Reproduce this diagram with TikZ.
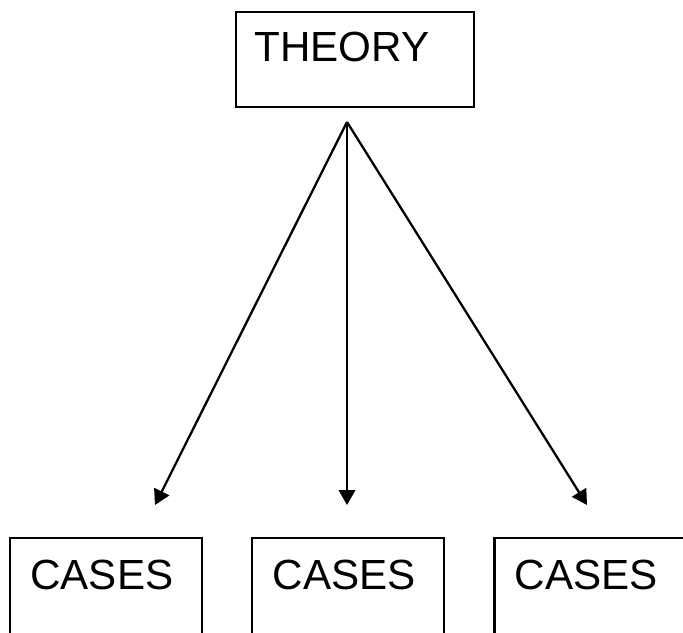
\documentclass[tikz,border=0pt]{standalone}
\usepackage{fontspec}
\setmainfont{Liberation Sans}
\usetikzlibrary{positioning,arrows.meta}

\begin{document}
\begin{tikzpicture}[
    node distance = 0.96cm,
    line width = 1.3pt,
    box/.style = {draw=black, rectangle, align=left,
        font=\fontsize{24}{28}\selectfont, text height=0.61cm},
    theorybox/.style = {box, inner xsep=0.37cm, inner ysep=0.37cm,
        text width=4.02cm, text depth=0.55cm},
    casebox/.style = {box, inner xsep=0.41cm, inner ysep=0.41cm,
        text width=3.02cm, text depth=0.53cm},
    arr/.style = {-{Triangle[length=0.30cm, width=0.33cm]}}]
    \useasboundingbox (0,0) rectangle (13.66,-12.64);
    % NODES
    % top box
    \node[theorybox, anchor=north west] (theory) at (4.70,-0.22) {THEORY};
    % middle case
    \node[casebox, anchor=north west] (case2) at (5.02,-10.74) {CASES};
    % left case
    \node[casebox, left = of case2] (case1) {CASES};
    % right case
    \node[casebox, right = of case2] (case3) {CASES};
    % arrow ends
    \coordinate (apex) at (6.94,-2.44);
    \coordinate (tip1) at (3.10,-10.10);
    \coordinate (tip2) at (6.94,-10.10);
    \coordinate (tip3) at (11.74,-10.10);

    % ARROWS
    \draw[arr] (apex)--(tip1);
    \draw[arr] (apex)--(tip2);
    \draw[arr] (apex)--(tip3);
\end{tikzpicture}
\end{document}
